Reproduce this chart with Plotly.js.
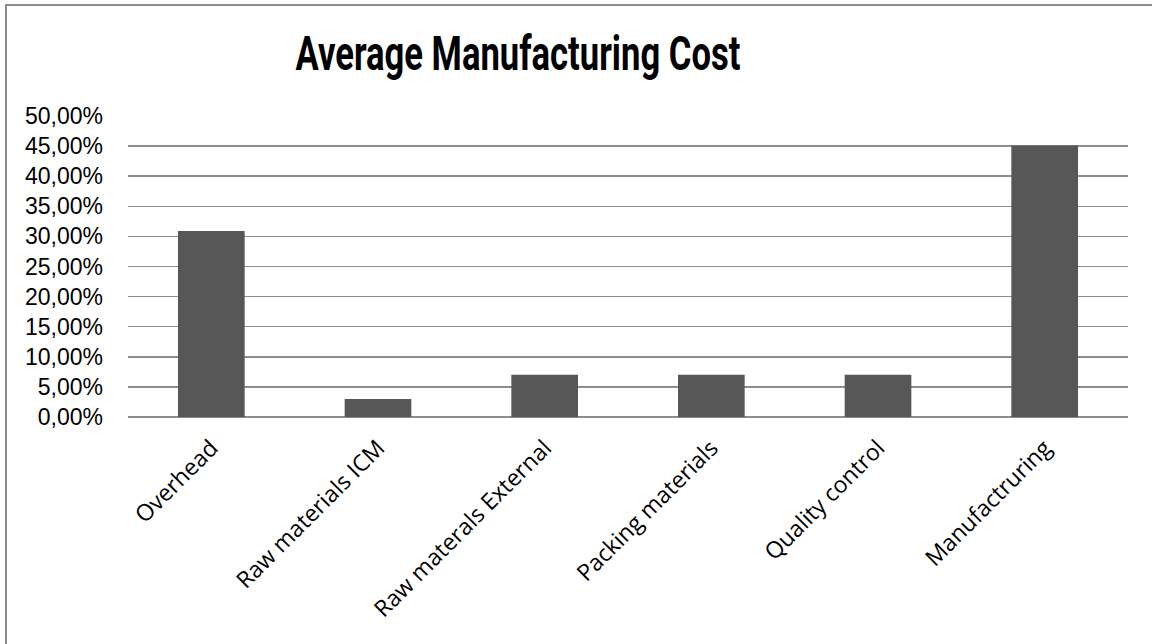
<!DOCTYPE html>
<html>
<head>
<meta charset="utf-8">
<script src="https://cdn.plot.ly/plotly-3.0.1.min.js"></script>
<style>
  html, body { margin: 0; padding: 0; background: #ffffff; overflow: hidden; }
  #chart { position: absolute; left: 0; top: 0; width: 1152px; height: 644px; }
  #frame { position: absolute; left: 5px; top: 4px; width: 1300px; height: 800px;
           border-left: 2px solid #8c8c8c; border-top: 2px solid #8c8c8c;
           pointer-events: none; }
</style>
</head>
<body>
<div id="chart"></div>
<div id="frame"></div>
<script>
const chartTitle = "Average Manufacturing Cost";
const categories = ["Overhead", "Raw materials ICM", "Raw materals External",
                    "Packing materials", "Quality control", "Manufactruring"];
const costShare = [0.309, 0.030, 0.070, 0.070, 0.070, 0.451];
const yTickValues = [0, 0.05, 0.10, 0.15, 0.20, 0.25, 0.30, 0.35, 0.40, 0.45, 0.50];

const trace = {
  type: "bar",
  x: categories,
  y: costShare,
  marker: { color: "#575757", line: { width: 0 } },
  width: 0.4,
  hoverinfo: "x+y"
};

const layout = {
  width: 1152,
  height: 644,
  separators: ",.",
  paper_bgcolor: "#ffffff",
  plot_bgcolor: "#ffffff",
  margin: { l: 128, r: 24, t: 116, b: 227 },
  showlegend: false,
  title: {
    text: "<b>" + chartTitle + "</b>",
    font: { family: "Roboto, Liberation Sans, sans-serif", size: 48, color: "#000000" },
    x: 518 / 1152,
    xanchor: "center",
    xref: "container",
    y: 1 - 53 / 644,
    yanchor: "middle",
    yref: "container"
  },
  xaxis: {
    type: "category",
    tickangle: -45,
    tickfont: { family: "Open Sans, Lato, sans-serif", size: 23, color: "#000000" },
    showgrid: false,
    showline: false,
    zeroline: false,
    ticks: "",
    ticklabelstandoff: 12
  },
  yaxis: {
    range: [0, 0.5],
    tickvals: yTickValues,
    tickformat: ".2%",
    tickfont: { family: "Liberation Sans, Arial, sans-serif", size: 23, color: "#000000" },
    showgrid: true,
    gridcolor: "#8c8c8c",
    gridwidth: 1.5,
    zeroline: true,
    zerolinecolor: "#8c8c8c",
    zerolinewidth: 1.5,
    showline: false,
    ticks: "",
    ticklabelstandoff: 24
  }
};

function condenseTitle() {
  const t = document.querySelector("#chart .gtitle");
  if (!t) return;
  t.removeAttribute("transform");
  const bb = t.getBBox();
  const cx = bb.x + bb.width / 2;
  const targetWidth = 445;
  const s = targetWidth / bb.width;
  t.setAttribute("transform", "translate(" + cx + ",0) scale(" + s + ",1) translate(" + (-cx) + ",0)");
}

Plotly.newPlot("chart", [trace], layout, { displayModeBar: false, staticPlot: true })
  .then(condenseTitle);
</script>
</body>
</html>
